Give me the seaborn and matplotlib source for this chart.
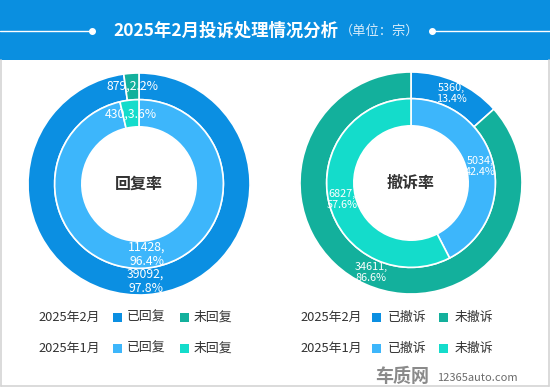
import math

import matplotlib.pyplot as plt
import seaborn as sns
from matplotlib.lines import Line2D
from matplotlib.patches import Rectangle

# 数据
months = ['2025年2月', '2025年1月']
reply_labels = ['已回复', '未回复']
cancel_labels = ['已撤诉', '未撤诉']
reply_feb = [39092, 879]
reply_jan = [11428, 430]
cancel_feb = [5360, 34611]
cancel_jan = [5034, 6827]
pct_reply_feb = [97.8, 2.2]
pct_reply_jan = [96.4, 3.6]
pct_cancel_feb = [13.4, 86.6]
pct_cancel_jan = [42.4, 57.6]

colors_feb = ['#0b8fe2', '#13b09c']
colors_jan = ['#3db6fb', '#14dccb']

W, H = 550, 388

sns.set_theme(style='white')
plt.rcParams['font.family'] = ['Noto Sans CJK SC', 'DejaVu Sans']


def fx(x):
    return x / W


def fy(y):
    return 1 - y / H


fig = plt.figure(figsize=(W / 100, H / 100), dpi=100)
fig.patch.set_facecolor('white')

# 标题栏
fig.patches.append(Rectangle((0, fy(60)), 1, 60 / H, transform=fig.transFigure,
                             facecolor='#0a8fe0', edgecolor='none', zorder=0))
fig.text(fx(338), fy(31), '2025年2月投诉处理情况分析', color='white', fontsize=12.5,
         fontweight='bold', ha='right', va='center')
fig.text(fx(340), fy(31.5), '（单位：宗）', color='#d8ecfa', fontsize=9.5, ha='left', va='center')
fig.lines.append(Line2D([0, fx(92)], [fy(30.5), fy(30.5)], transform=fig.transFigure,
                        color='white', lw=1))
fig.lines.append(Line2D([fx(432), 1], [fy(30.5), fy(30.5)], transform=fig.transFigure,
                        color='white', lw=1))
for xd in [92, 432]:
    fig.lines.append(Line2D([fx(xd)], [fy(30.5)], transform=fig.transFigure, marker='o',
                            markersize=4, color='white', lw=0))

# 边框
fig.lines.append(Line2D([fx(1), fx(1)], [fy(60), fy(386)], transform=fig.transFigure, color='#d4d4d4', lw=1.2))
fig.lines.append(Line2D([fx(548.5), fx(548.5)], [fy(60), fy(386)], transform=fig.transFigure, color='#d4d4d4', lw=1.2))
fig.lines.append(Line2D([fx(1), fx(548.5)], [fy(386), fy(386)], transform=fig.transFigure, color='#d4d4d4', lw=1.2))

R = 111
R_MID = 0.76
R_IN = 0.515


def donut(cx, cy, outer, inner, pct_out, pct_in, title, lab_size, first_single=False):
    ax = fig.add_axes([fx(cx - R), fy(cy + R), 2 * R / W, 2 * R / H])
    wo, _ = ax.pie(outer, radius=1.0, colors=colors_feb, startangle=90, counterclock=False,
                   wedgeprops=dict(width=1.0 - R_MID, edgecolor='white', linewidth=1.2))
    wi, _ = ax.pie(inner, radius=R_MID, colors=colors_jan, startangle=90, counterclock=False,
                   wedgeprops=dict(width=R_MID - R_IN, edgecolor='white', linewidth=1.2))
    ax.set_xlim(-1, 1)
    ax.set_ylim(-1, 1)
    ax.set_aspect('equal')
    ax.axis('off')
    for wedges, vals, pcts, r0, r1 in [(wo, outer, pct_out, R_MID, 1.0), (wi, inner, pct_in, R_IN, R_MID)]:
        for w, v, p in zip(wedges, vals, pcts):
            mid = math.radians((w.theta1 + w.theta2) / 2)
            rm = (r0 + r1) / 2
            if first_single and p < 5:
                s = f'{v},{p}%'
            else:
                s = f'{v},\n{p}%'
            ax.text(rm * math.cos(mid), rm * math.sin(mid), s, color='white', fontsize=lab_size,
                    ha='center', va='center', linespacing=1.1)
    ax.text(0, 0, title, fontsize=11.5, fontweight='bold', color='#333333', ha='center', va='center')


donut(139, 184, reply_feb, reply_jan, pct_reply_feb, pct_reply_jan, '回复率', 8.8, first_single=True)
donut(411, 183, cancel_feb, cancel_jan, pct_cancel_feb, pct_cancel_jan, '撤诉率', 7.8)


# 图例
def legend(x0, labels, sq_x, txt_x):
    for row, (m, cols) in enumerate(zip(months, [colors_feb, colors_jan])):
        y = 317 + row * 31.5
        fig.text(fx(x0), fy(y), m, fontsize=9.3, color='#333333', ha='left', va='center')
        for lab, c, sx, tx in zip(labels, cols, sq_x, txt_x):
            fig.patches.append(Rectangle((fx(sx), fy(y + 4.5)), 9 / W, 9 / H, transform=fig.transFigure,
                                         facecolor=c, edgecolor='none'))
            fig.text(fx(tx), fy(y), lab, fontsize=9.3, color='#333333', ha='left', va='center')


legend(38, reply_labels, [113, 180], [127, 194])
legend(300, cancel_labels, [372, 439], [388, 455])

# 水印
fig.text(fx(375), fy(376), '车质网', fontsize=13, fontweight='bold', color='#8a8a8a',
         ha='left', va='center', style='italic')
fig.text(fx(437), fy(378), '12365auto.com', fontsize=8, color='#6a6a6a', ha='left', va='center')

fig.savefig('out.png', dpi=100)
